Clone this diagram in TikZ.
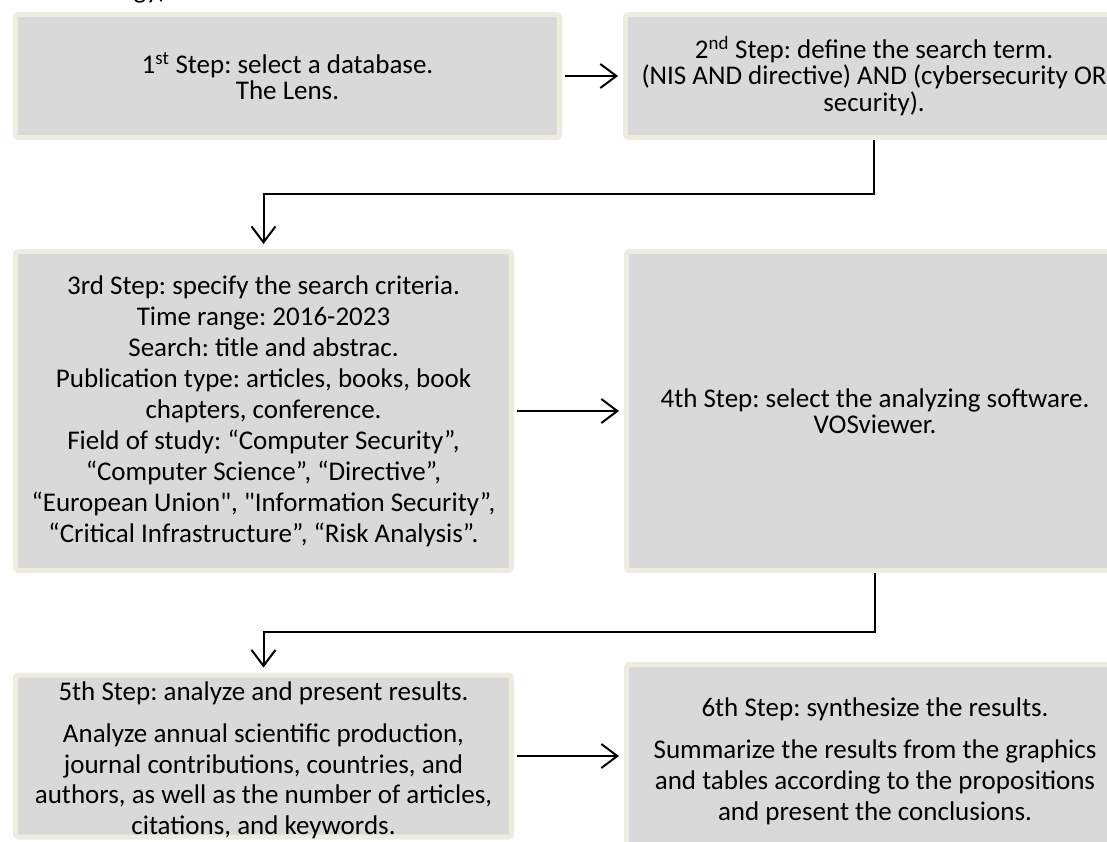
\documentclass[tikz,border=0pt]{standalone}
\usepackage{fontspec}
\setmainfont{Carlito}[Ligatures=TeXOff]
\usetikzlibrary{arrows.meta}
\definecolor{boxfill}{HTML}{D9D9D9}
\definecolor{boxrim}{HTML}{EEECE1}
\tikzset{
  boxshape/.style={draw=boxrim, line width=5pt, fill=boxfill, rounded corners=3pt,
    inner sep=0pt},
  stepbox/.style={boxshape, align=center, text=black,
    font=\frenchspacing\fontsize{27}{26.5}\selectfont},
  widebox/.style={stepbox, font=\frenchspacing\fontsize{27}{31}\selectfont},
  steptext/.style={align=center, text=black, inner sep=0pt,
    font=\frenchspacing\fontsize{27}{30.5}\selectfont},
  arr/.style={draw=black, line width=2pt, -{Straight Barb[length=16pt,width=24pt,line width=2pt]},
    shorten >=5pt},
}
\begin{document}
\begin{tikzpicture}[x=1pt,y=-1pt]
\useasboundingbox (0,0) rectangle (1107,841);
\fill[white] (0,0) rectangle (1107,841);
\node[anchor=base east, inner sep=0pt, font=\fontsize{27}{29}\selectfont] (title) at (167,-1.5) {gy)};
\node[stepbox, minimum width=544pt, minimum height=123pt] (b1) at (287.5,76)
  {1\textsuperscript{st} Step: select a database.\\The Lens.};
\node[stepbox, minimum width=497pt, minimum height=123pt] (b2) at (874,76)
  {2\textsuperscript{nd} Step: define the search term.\\(NIS AND directive) AND (cybersecurity OR\\security).};
\node[widebox, minimum width=496pt, minimum height=319pt] (b3) at (263.5,411)
  {3rd Step: specify the search criteria.\\
   Time range: 2016-2023\\
   Search: title and abstrac.\\
   Publication type: articles, books, book\\
   chapters, conference.\\
   Field of study: “Computer Security”,\\
   “Computer Science”, “Directive”,\\
   “European Union", "Information Security”,\\
   “Critical Infrastructure”, “Risk Analysis”.};
\node[stepbox, minimum width=497pt, minimum height=319pt] (b4) at (875,411)
  {4th Step: select the analyzing software.\\VOSviewer.};
\node[boxshape, minimum width=496pt, minimum height=162pt] (b5) at (263.5,756) {};
\node[steptext] (b5t) at ([yshift=-4pt]b5.center)
  {5th Step: analyze and present results.\\[12pt]
   Analyze annual scientific production,\\
   journal contributions, countries, and\\
   authors, as well as the number of articles,\\
   citations, and keywords.};
\node[widebox, minimum width=497pt, minimum height=193pt] (b6) at (875,761)
  {6th Step: synthesize the results.\\[11pt]
   Summarize the results from the graphics\\
   and tables according to the propositions\\
   and present the conclusions.};
\draw[arr, shorten <=3pt] (b1.east) -- (b1.east -| b2.west);
\draw[arr] (b2.south) -- (b2.south |- 0,194) -| (b3.north);
\draw[arr, shorten <=3pt] (b3.east) -- (b4.west);
\draw[arr] (b4.south) -- (b4.south |- 0,632) -| (b5.north);
\draw[arr, shorten <=3pt] (b5.east) -- (b5.east -| b6.west);
\end{tikzpicture}
\end{document}
